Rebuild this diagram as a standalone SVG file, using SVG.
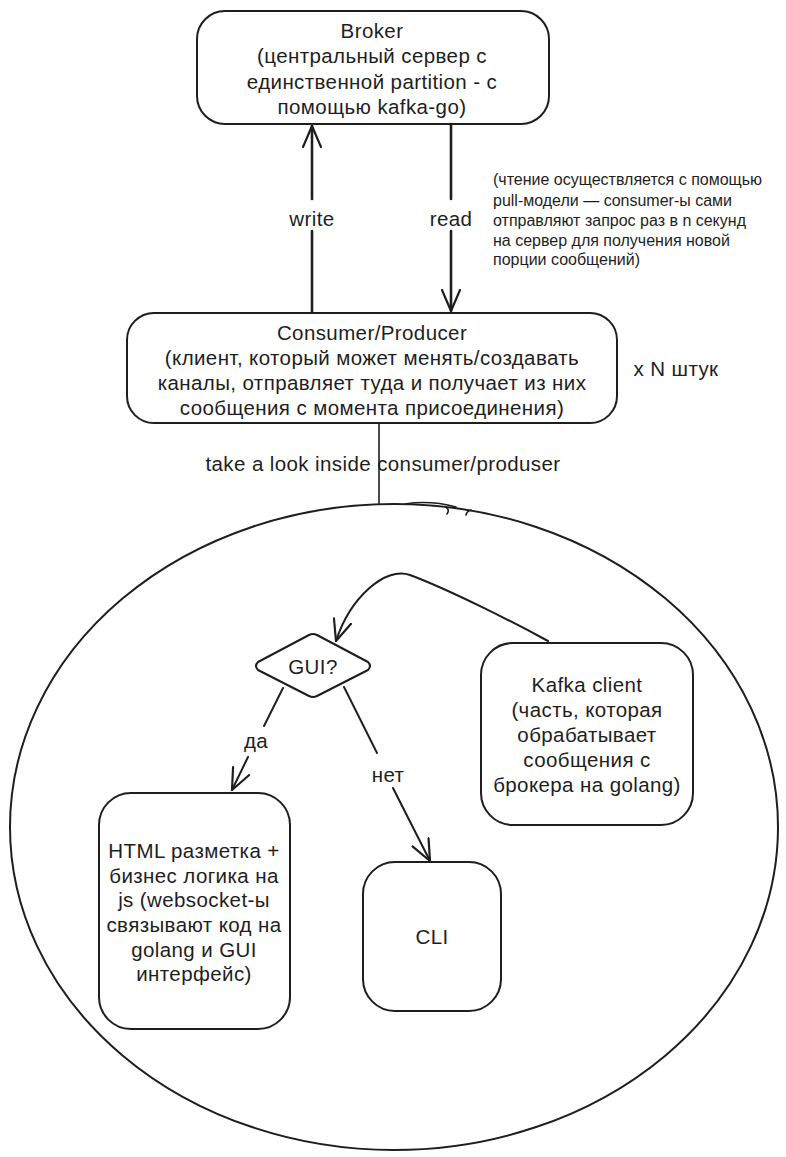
<svg xmlns="http://www.w3.org/2000/svg" width="786" height="1157" viewBox="0 0 786 1157">
<style>
  .bg { fill: #ffffff; }
  .box { fill: none; stroke: #1e1e1e; stroke-width: 2; stroke-linejoin: round; }
  .t { font-family: "Liberation Sans", Arial, sans-serif; font-size: 20.5px; letter-spacing: 0.4px; fill: #1e1e1e; text-anchor: middle; dominant-baseline: central; }
  .s { font-family: "Liberation Sans", Arial, sans-serif; font-size: 16px; fill: #1e1e1e; dominant-baseline: central; }
  .c { fill: none; stroke: #1e1e1e; stroke-width: 2; stroke-linecap: round; stroke-linejoin: round; }
  .thick { stroke-width: 2.6; }
  .thin { stroke-width: 1.6; }
</style>
<defs>
  <marker id="arr" markerUnits="userSpaceOnUse" viewBox="0 0 24 20" markerWidth="24" markerHeight="20" refX="22" refY="10" orient="auto">
    <path d="M1,1 L22,10 L1,19" fill="none" stroke="#1e1e1e" stroke-width="2.2" stroke-linecap="round" stroke-linejoin="round"/>
  </marker>
</defs>
<rect class="bg" x="0" y="0" width="786" height="1157"/>

<g id="connectors">
  <!-- write -->
  <path class="c thick" d="M312,312 L312,231"/>
  <path class="c thick" d="M312,199 L312,126" marker-end="url(#arr)"/>
  <text class="t" x="312" y="218">write</text>
  <!-- read -->
  <path class="c thick" d="M451,124 L451,199"/>
  <path class="c thick" d="M451,231 L451,311" marker-end="url(#arr)"/>
  <text class="t" x="451" y="218">read</text>
  <!-- consumer to inside -->
  <path class="c thin" d="M379,423 L379,504"/>
  <text class="t" x="383" y="463">take a look inside consumer/produser</text>
  <path class="c thin" d="M405,504 Q430,500 456,507 M446,507 Q450,510 447,514 M471,510 Q467,511 466,515"/>
  <!-- kafka client to GUI -->
  <path class="c" d="M548,641 C515,623 450,590 410,575 C385,566 350,598 336,641" marker-end="url(#arr)"/>
  <!-- да -->
  <path class="c" d="M283,688 L264,726"/>
  <path class="c" d="M248,757 L232,790" marker-end="url(#arr)"/>
  <text class="t" x="256" y="740">да</text>
  <!-- нет -->
  <path class="c" d="M344,687 L377,753"/>
  <path class="c" d="M393,788 L430,861" marker-end="url(#arr)"/>
  <text class="t" x="388" y="774">нет</text>
</g>

<g id="broker">
  <rect class="box" x="197" y="11" width="352" height="113" rx="28" ry="28"/>
  <text class="t" x="372" y="30">Broker</text>
  <text class="t" x="372" y="55">(центральный сервер с</text>
  <text class="t" x="372" y="81">единственной partition - с</text>
  <text class="t" x="372" y="106">помощью kafka-go)</text>
</g>

<g id="note">
  <text class="s" x="493" y="179">(чтение осуществляется с помощью</text>
  <text class="s" x="493" y="200">pull-модели — consumer-ы сами</text>
  <text class="s" x="493" y="220">отправляют запрос раз в n секунд</text>
  <text class="s" x="493" y="240">на сервер для получения новой</text>
  <text class="s" x="493" y="259">порции сообщений)</text>
</g>

<g id="consumer">
  <rect class="box" x="127" y="313" width="490" height="110" rx="27" ry="27"/>
  <text class="t" x="372" y="332">Consumer/Producer</text>
  <text class="t" x="372" y="357">(клиент, который может менять/создавать</text>
  <text class="t" x="372" y="382">каналы, отправляет туда и получает из них</text>
  <text class="t" x="372" y="407">сообщения с момента присоединения)</text>
</g>

<g id="count">
  <text class="t" x="676" y="368">x N штук</text>
</g>

<g id="inside">
  <ellipse class="box" cx="394" cy="827" rx="384" ry="323"/>
</g>

<g id="gui">
  <path class="box" d="M309,635 Q313,633 317,635 L368,662 Q372,666 368,670 L317,696 Q313,698 309,696 L258,670 Q254,666 258,662 Z"/>
  <text class="t" x="313" y="666">GUI?</text>
</g>

<g id="kafka">
  <rect class="box" x="481" y="643" width="212" height="182" rx="32" ry="32"/>
  <text class="t" x="587" y="684">Kafka client</text>
  <text class="t" x="587" y="709">(часть, которая</text>
  <text class="t" x="587" y="734">обрабатывает</text>
  <text class="t" x="587" y="759">сообщения с</text>
  <text class="t" x="587" y="784">брокера на golang)</text>
</g>

<g id="html">
  <rect class="box" x="99" y="793" width="191" height="236" rx="32" ry="32"/>
  <text class="t" x="194" y="850">HTML разметка +</text>
  <text class="t" x="194" y="875">бизнес логика на</text>
  <text class="t" x="194" y="899">js (websocket-ы</text>
  <text class="t" x="194" y="924">связывают код на</text>
  <text class="t" x="194" y="949">golang и GUI</text>
  <text class="t" x="194" y="973">интерфейс)</text>
</g>

<g id="cli">
  <rect class="box" x="363" y="862" width="138" height="149" rx="32" ry="32"/>
  <text class="t" x="432" y="936">CLI</text>
</g>
</svg>
